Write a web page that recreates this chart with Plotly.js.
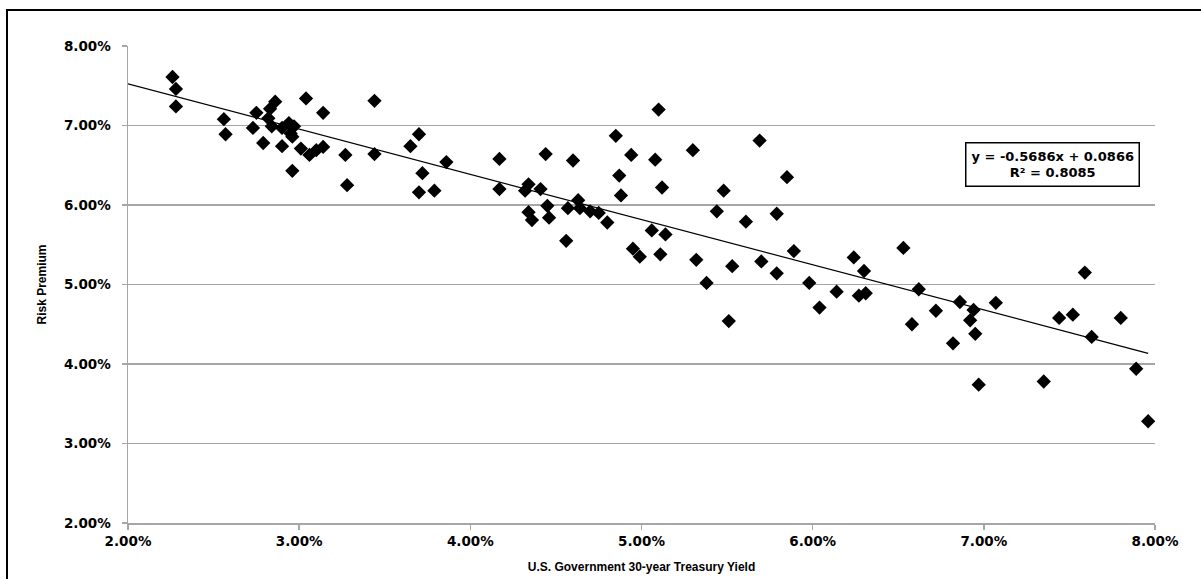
<!DOCTYPE html>
<html>
<head>
<meta charset="utf-8">
<script src="https://cdn.plot.ly/plotly-3.0.1.min.js"></script>
<style>
  html, body { margin: 0; padding: 0; background: #fff; }
  #wrap { position: relative; width: 1201px; height: 579px; overflow: hidden; }
  #chart { position: absolute; left: 0; top: 0; width: 1201px; height: 579px; }
  #frame { position: absolute; left: 6px; top: 9px; width: 1300px; height: 700px;
           border-left: 2px solid #000; border-top: 2px solid #000; pointer-events: none; }
</style>
</head>
<body>
<div id="wrap">
  <div id="chart"></div>
  <div id="frame"></div>
</div>
<script>
// U.S. Government 30-year Treasury Yield (%)
const treasuryYield = [
  2.26, 2.28, 2.28, 2.56, 2.57, 2.75, 2.73, 2.79, 2.83, 2.86,
  2.82, 2.84, 2.90, 2.90, 2.94, 2.97, 2.95, 2.96, 2.96, 3.04,
  3.01, 3.06, 3.10, 3.14, 3.14, 3.27, 3.28, 3.44, 3.44, 3.70,
  3.65, 3.72, 3.70, 3.79, 3.86, 4.17, 4.17, 4.34, 4.32, 4.41,
  4.34, 4.36, 4.45, 4.46, 4.44, 4.60, 4.56, 4.57, 4.63, 4.64,
  4.70, 4.75, 4.80, 4.85, 4.94, 4.87, 4.88, 5.10, 5.08, 5.12,
  5.06, 5.14, 4.95, 4.99, 5.11, 5.30, 5.48, 5.44, 5.61, 5.69,
  5.32, 5.38, 5.53, 5.70, 5.79, 5.51, 5.79, 5.85, 5.89, 5.98,
  6.04, 6.14, 6.24, 6.30, 6.27, 6.31, 6.53, 6.62, 6.58, 6.72,
  6.86, 6.82, 6.94, 6.92, 6.95, 6.97, 7.07, 7.35, 7.44, 7.52,
  7.59, 7.63, 7.80, 7.89, 7.96
];
// Risk Premium (%)
const riskPremium = [
  7.61, 7.46, 7.24, 7.08, 6.89, 7.16, 6.97, 6.78, 7.21, 7.30,
  7.09, 6.99, 6.97, 6.74, 7.03, 6.99, 6.90, 6.86, 6.43, 7.34,
  6.71, 6.63, 6.69, 6.73, 7.16, 6.63, 6.25, 7.31, 6.64, 6.89,
  6.74, 6.40, 6.16, 6.18, 6.54, 6.58, 6.20, 6.26, 6.18, 6.20,
  5.91, 5.81, 5.99, 5.84, 6.64, 6.56, 5.55, 5.96, 6.06, 5.96,
  5.92, 5.90, 5.78, 6.87, 6.63, 6.37, 6.12, 7.20, 6.57, 6.22,
  5.68, 5.63, 5.45, 5.35, 5.38, 6.69, 6.18, 5.92, 5.79, 6.81,
  5.31, 5.02, 5.23, 5.29, 5.14, 4.54, 5.89, 6.35, 5.42, 5.02,
  4.71, 4.91, 5.34, 5.17, 4.86, 4.89, 5.46, 4.94, 4.50, 4.67,
  4.78, 4.26, 4.68, 4.55, 4.38, 3.74, 4.77, 3.78, 4.58, 4.62,
  5.15, 4.34, 4.58, 3.94, 3.28
];
// Linear trend (as printed on the chart, decimal units)
const trendSlope = -0.5686;
const trendIntercept = 0.0866;
const trendR2 = 0.8085;
const trendX = [2.00, 7.96];
const tickVals = [2, 3, 4, 5, 6, 7, 8];
const tickText = ["2.00%", "3.00%", "4.00%", "5.00%", "6.00%", "7.00%", "8.00%"];

const trendY = trendX.map(x => (trendSlope * (x / 100) + trendIntercept) * 100);

const titleFont = { family: "Liberation Sans, Arial, sans-serif", size: 12, color: "#000", weight: "bold" };
const tickFont = { family: "DejaVu Sans, sans-serif", size: 13.5, color: "#000", weight: "bold" };

const data = [
  {
    type: "scatter", mode: "markers",
    x: treasuryYield, y: riskPremium,
    marker: { symbol: "diamond", size: 11, color: "#000", line: { width: 0 } },
    hoverinfo: "x+y", showlegend: false
  },
  {
    type: "scatter", mode: "lines",
    x: trendX, y: trendY,
    line: { color: "#000", width: 1.2 },
    hoverinfo: "skip", showlegend: false
  }
];

const layout = {
  width: 1201, height: 579,
  margin: { l: 128, r: 46, t: 46, b: 56 },
  paper_bgcolor: "#fff", plot_bgcolor: "#fff",
  font: titleFont,
  showlegend: false,
  xaxis: {
    range: [2, 8], tickvals: tickVals, ticktext: tickText,
    showgrid: false, zeroline: false,
    showline: true, linecolor: "#a6a6a6", linewidth: 1.5,
    ticks: "outside", ticklen: 5, tickcolor: "#a6a6a6", tickwidth: 1.5,
    tickfont: tickFont,
    title: { text: "U.S. Government 30-year Treasury Yield", standoff: 15, font: titleFont },
    fixedrange: true
  },
  yaxis: {
    range: [2, 8], tickvals: tickVals, ticktext: tickText,
    showgrid: true, gridcolor: "#a6a6a6", gridwidth: 1.5, zeroline: false,
    showline: true, linecolor: "#a6a6a6", linewidth: 1.5,
    ticks: "outside", ticklen: 5, tickcolor: "#a6a6a6", tickwidth: 1.5,
    ticklabelstandoff: 8,
    tickfont: tickFont,
    title: { text: "Risk Premium", standoff: 15, font: titleFont },
    fixedrange: true
  },
  annotations: [
    {
      xref: "x", yref: "y", x: 7.40, y: 6.51,
      text: "y = " + trendSlope.toFixed(4) + "x + " + trendIntercept.toFixed(4) + "<br>R² = " + trendR2.toFixed(4),
      showarrow: false, align: "center",
      font: { family: "DejaVu Sans, sans-serif", size: 13, color: "#000", weight: "bold" },
      bgcolor: "#fff", bordercolor: "#000", borderwidth: 1.5, borderpad: 5
    }
  ]
};

Plotly.newPlot("chart", data, layout, { displayModeBar: false, staticPlot: true });
</script>
</body>
</html>
